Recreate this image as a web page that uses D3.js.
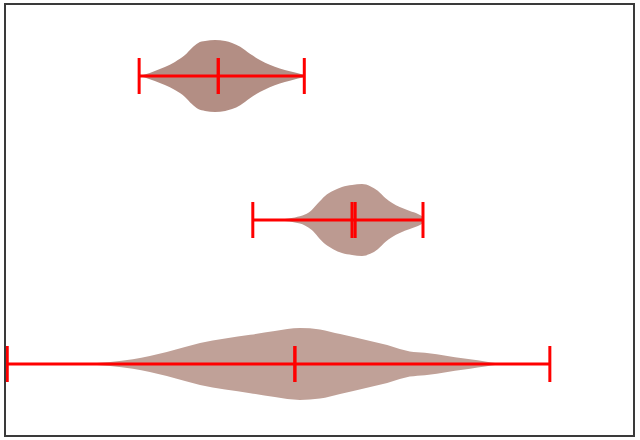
<!DOCTYPE html>
<html>
<head>
<meta charset="utf-8">
<script src="https://cdn.jsdelivr.net/npm/d3@7"></script>
<style>
html,body{margin:0;padding:0;background:#fff;}
svg{display:block;}
</style>
</head>
<body>
<svg id="chart" width="640" height="440"></svg>
<script>
// ---- data ----
const positions = [3, 2, 1];            // vertical positions of the three violins
const violinColors = ["#b38e84", "#bc9a91", "#c0a198"];

// kernel density profiles (value, relative density)
const kde1X = [21.2, 22.1, 23.7, 25.3, 26.9, 28.5, 29.6, 30.6, 31.7, 33.3, 34.9, 36.0, 37.3, 38.9, 40.5, 42.0, 43.6, 45.2, 47.5];
const kde1D = [0.0, 0.04, 0.14, 0.25, 0.39, 0.58, 0.78, 0.92, 0.97, 1.0, 0.97, 0.92, 0.81, 0.61, 0.44, 0.31, 0.21, 0.13, 0.03];

const kde2X = [39.3, 42.0, 44.4, 46.0, 47.6, 48.7, 49.7, 50.8, 52.1, 53.5, 55.1, 56.7, 58.0, 59.2, 60.4, 61.5, 62.7, 64.3, 65.6, 66.4];
const kde2D = [0.0, 0.01, 0.03, 0.07, 0.15, 0.28, 0.47, 0.67, 0.81, 0.92, 0.97, 1.0, 0.94, 0.81, 0.61, 0.47, 0.36, 0.25, 0.17, 0.09];

const kde3X = [0.2, 7.0, 12.3, 16.6, 20.2, 22.9, 25.6, 28.5, 30.9, 34.9, 38.9, 42.8, 46.8, 50.0, 53.2, 55.3, 58.0, 60.7, 62.7, 64.3, 66.7, 68.6, 71.5, 73.9, 76.3, 78.2, 80.3, 86.6];
const kde3D = [0.0, 0.006, 0.014, 0.056, 0.13, 0.22, 0.33, 0.47, 0.58, 0.71, 0.81, 0.92, 1.0, 0.96, 0.83, 0.75, 0.64, 0.53, 0.42, 0.35, 0.31, 0.27, 0.19, 0.13, 0.07, 0.02, 0.006, 0.0];

const mins    = [21.2, 39.3, 0.2];
const maxs    = [47.5, 66.4, 86.6];
const medians = [33.8, 55.6, 46.0];
const means   = [33.8, 55.1, 46.0];

// ---- chart ----
const W = 640, H = 440;
const svg = d3.select("#chart");
const x = d3.scaleLinear().domain([0, 100]).range([6, 634]);
const y = d3.scaleLinear().domain([0.5, 3.5]).range([436, 4]);

const kdes = [[kde1X, kde1D], [kde2X, kde2D], [kde3X, kde3D]];
const halfWidth = 0.25;   // widths = 0.5

kdes.forEach(([xs, ds], i) => {
  const maxD = d3.max(ds);
  const pts = xs.map((v, j) => ({v, d: ds[j] / maxD * halfWidth}));
  const pos = positions[i];
  const area = d3.area()
    .x(p => x(p.v))
    .y0(p => y(pos - p.d))
    .y1(p => y(pos + p.d))
    .curve(d3.curveMonotoneX);
  svg.append("path")
    .attr("d", area(pts))
    .attr("fill", violinColors[i])
    .attr("stroke", "none");
});

const red = "#ff0000";
const tick = 0.125;
positions.forEach((pos, i) => {
  // horizontal bar
  svg.append("line")
    .attr("x1", x(mins[i])).attr("x2", x(maxs[i]))
    .attr("y1", y(pos)).attr("y2", y(pos))
    .attr("stroke", red).attr("stroke-width", 3);
  // extremes, median, mean
  [mins[i], maxs[i], medians[i], means[i]].forEach(v => {
    svg.append("line")
      .attr("x1", x(v)).attr("x2", x(v))
      .attr("y1", y(pos - tick)).attr("y2", y(pos + tick))
      .attr("stroke", red).attr("stroke-width", 3);
  });
});

// frame
svg.append("rect")
  .attr("x", 5).attr("y", 4)
  .attr("width", 629).attr("height", 432)
  .attr("fill", "none")
  .attr("stroke", "#3a3a3a")
  .attr("stroke-width", 2);
</script>
</body>
</html>
